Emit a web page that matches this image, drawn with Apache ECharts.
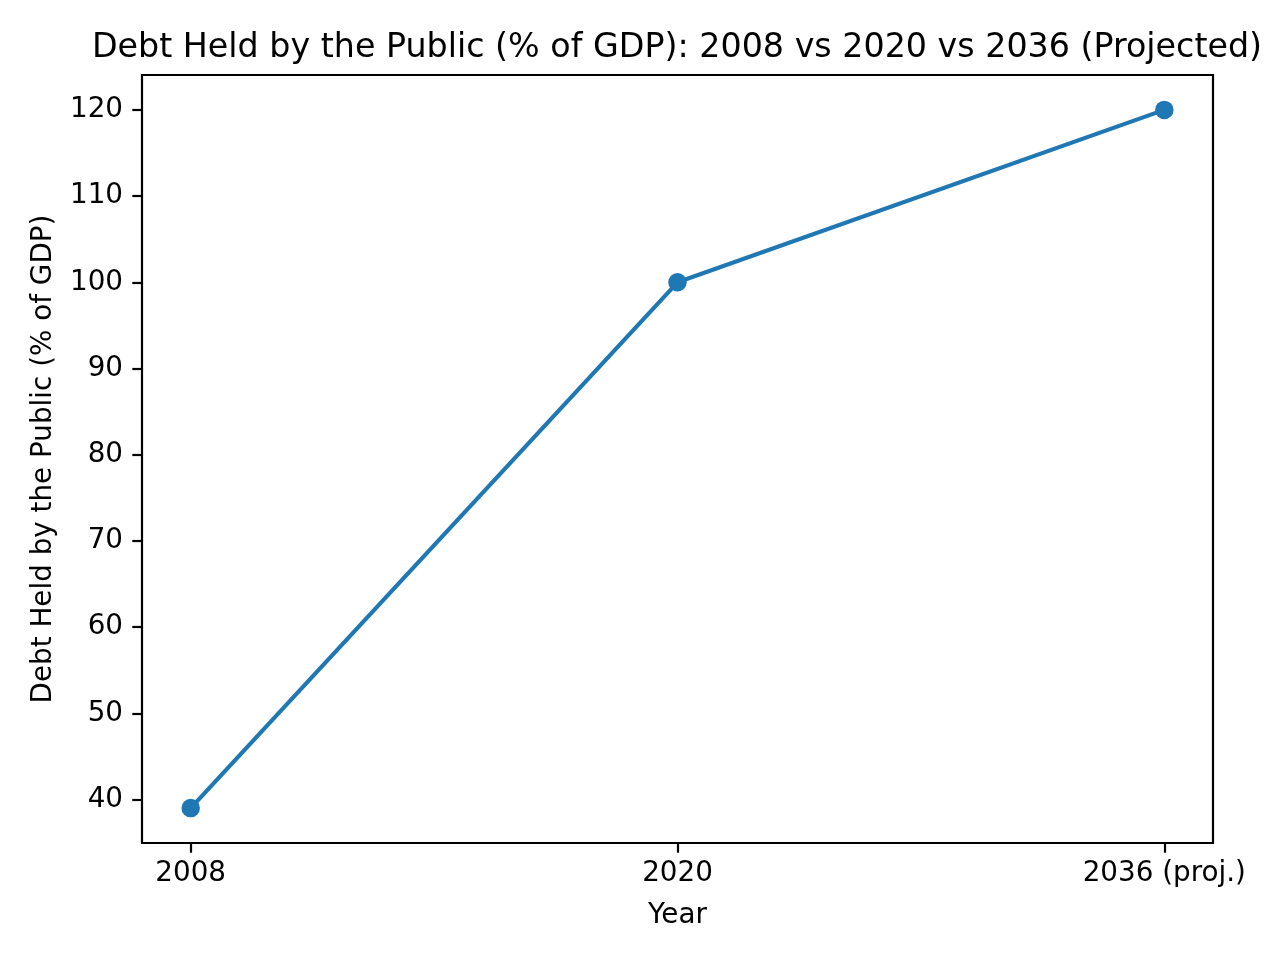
<!DOCTYPE html>
<html>
<head>
<meta charset="utf-8">
<script src="https://cdn.jsdelivr.net/npm/echarts@6/dist/echarts.min.js"></script>
<style>html,body{margin:0;padding:0;background:#fff}#c{width:1280px;height:960px}</style>
</head>
<body>
<div id="c"></div>
<script>
const categories = ['2008', '2020', '2036 (proj.)'];
const debtValues = [39, 100, 120];
const yTicks = [40, 50, 60, 70, 80, 90, 100, 110, 120];

const FONT = 'DejaVu Sans';
const chart = echarts.init(document.getElementById('c'), null, {renderer: 'canvas'});
const points = categories.map((c, i) => [i, debtValues[i]]);
const dMin = Math.min(...debtValues), dMax = Math.max(...debtValues);
const pad = (dMax - dMin) * 0.05;

chart.setOption({
  animation: false,
  backgroundColor: '#fff',
  title: {
    text: 'Debt Held by the Public (% of GDP): 2008 vs 2020 vs 2036 (Projected)',
    left: 672,
    textAlign: 'center',
    top: 27,
    textStyle: {fontFamily: FONT, fontSize: 33.3, fontWeight: 'normal', color: '#000'}
  },
  grid: {left: 142, right: 67, top: 75, bottom: 117, show: true, borderColor: '#000', borderWidth: 2.2, containLabel: false},
  xAxis: {
    type: 'value',
    min: -0.1, max: 2.1,
    name: 'Year',
    nameLocation: 'middle',
    nameGap: 59,
    nameTextStyle: {fontFamily: FONT, fontSize: 27.8, color: '#000'},
    axisLine: {show: false, onZero: false},
    splitLine: {show: false},
    axisTick: {show: true, customValues: [0, 1, 2], length: 9.7, lineStyle: {color: '#000', width: 2.2}},
    axisLabel: {customValues: [0, 1, 2], margin: 17, fontFamily: FONT, fontSize: 27.8, color: '#000',
      formatter: v => categories[Math.round(v)]}
  },
  yAxis: {
    type: 'value',
    min: dMin - pad, max: dMax + pad,
    name: 'Debt Held by the Public (% of GDP)',
    nameLocation: 'middle',
    nameGap: 84,
    nameTextStyle: {fontFamily: FONT, fontSize: 27.8, color: '#000'},
    axisLine: {show: false, onZero: false},
    splitLine: {show: false},
    axisTick: {show: true, customValues: yTicks, length: 9.7, lineStyle: {color: '#000', width: 2.2}},
    axisLabel: {customValues: yTicks, margin: 19, fontFamily: FONT, fontSize: 27.8, color: '#000'}
  },
  series: [{
    type: 'line',
    data: points,
    symbol: 'circle',
    symbolSize: 18.5,
    lineStyle: {color: '#1f77b4', width: 4.17},
    itemStyle: {color: '#1f77b4'}
  }]
});
</script>
</body>
</html>
